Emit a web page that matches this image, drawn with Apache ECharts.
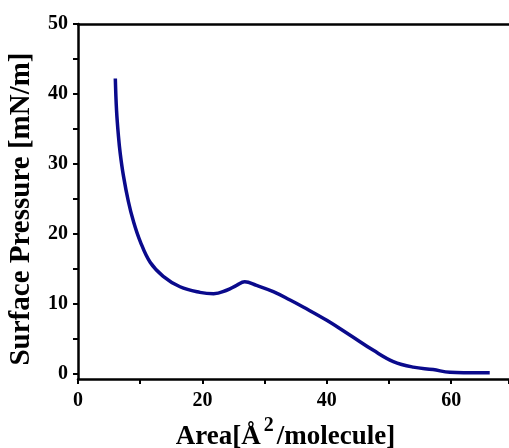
<!DOCTYPE html>
<html>
<head>
<meta charset="utf-8">
<script src="https://cdn.jsdelivr.net/npm/echarts@6/dist/echarts.min.js"></script>
<style>
  html, body { margin: 0; padding: 0; background: #fff; }
  #chart { width: 509px; height: 448px; }
</style>
</head>
<body>
<div id="chart"></div>
<script>
// Surface pressure–area isotherm
const areaValues = [6.0, 6.2, 6.5, 6.8, 7.3, 8.1, 8.9, 10.0, 11.6, 13.7, 16.4, 19.6, 21.8, 23.9, 25.5, 26.8, 28.7, 31.4, 34.1, 36.2, 40.0, 43.7, 47.5, 50.7, 53.9, 57.1, 59.8, 62.0, 66.2];
const pressureValues = [42.2, 37.6, 34.0, 31.4, 28.3, 24.6, 21.8, 18.9, 15.9, 13.9, 12.4, 11.6, 11.4, 11.9, 12.6, 13.1, 12.6, 11.7, 10.5, 9.5, 7.6, 5.5, 3.3, 1.7, 0.9, 0.55, 0.15, 0.1, 0.1];

const xLabelValues = [0, 20, 40, 60];
const yLabelValues = [0, 10, 20, 30, 40, 50];
const yTickValues = [0, 5, 10, 15, 20, 25, 30, 35, 40, 45, 50];

const FONT = '"Liberation Serif", "Times New Roman", serif';
const points = areaValues.map((a, i) => [a, pressureValues[i]]);

const chart = echarts.init(document.getElementById('chart'), null, { renderer: 'canvas' });
chart.setOption({
  backgroundColor: '#ffffff',
  animation: false,
  grid: { left: 78, top: 24, right: 0, bottom: 69, containLabel: false, outerBoundsMode: 'none' },
  xAxis: [
    {
      type: 'value',
      min: 0,
      max: 69.3,
      interval: 10,
      name: '{t|Area[Å}{sup|2}{t|/molecule]}',
      nameLocation: 'middle',
      nameGap: 35,
      nameTextStyle: {
        padding: [0, 16, 0, 0],
        rich: {
          t: { fontFamily: FONT, fontWeight: 'bold', fontSize: 27, color: '#000' },
          sup: { fontFamily: FONT, fontWeight: 'bold', fontSize: 20, color: '#000', padding: [0, 3, 22, 3] }
        }
      },
      axisLine: { show: true, onZero: false, lineStyle: { color: '#000', width: 2.5 } },
      axisTick: { show: true, inside: false, length: 5, lineStyle: { color: '#000', width: 2 } },
      axisLabel: {
        customValues: xLabelValues,
        margin: 12,
        fontFamily: FONT, fontWeight: 'bold', fontSize: 20, color: '#000'
      },
      splitLine: { show: false }
    },
    {
      type: 'value',
      position: 'top',
      min: 0,
      max: 69.3,
      axisLine: { show: true, onZero: false, lineStyle: { color: '#000', width: 2.5 } },
      axisTick: { show: false },
      axisLabel: { show: false },
      splitLine: { show: false }
    }
  ],
  yAxis: {
    type: 'value',
    min: -0.8,
    max: 50,
    name: 'Surface Pressure [mN/m]',
    nameLocation: 'middle',
    nameGap: 42,
    nameRotate: 90,
    nameTextStyle: { fontFamily: FONT, fontWeight: 'bold', fontSize: 29, color: '#000', padding: [0, 15, 0, 0] },
    axisLine: { show: true, onZero: false, lineStyle: { color: '#000', width: 2.5 } },
    axisTick: { show: true, inside: false, length: 5, customValues: yTickValues, lineStyle: { color: '#000', width: 2 } },
    axisLabel: {
      customValues: yLabelValues,
      margin: 10,
      fontFamily: FONT, fontWeight: 'bold', fontSize: 20, color: '#000'
    },
    splitLine: { show: false }
  },
  series: [{
    type: 'line',
    data: points,
    smooth: 0.4,
    showSymbol: false,
    lineStyle: { color: '#0a0a8c', width: 3.5 },
    clip: false
  }]
});
</script>
</body>
</html>
